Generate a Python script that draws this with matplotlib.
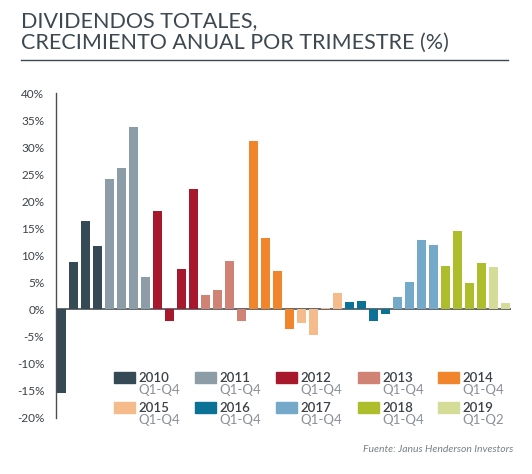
import matplotlib
matplotlib.use('Agg')
import matplotlib.pyplot as plt
from matplotlib.lines import Line2D
from matplotlib.patches import Rectangle
import numpy as np

years = ['2010', '2011', '2012', '2013', '2014', '2015', '2016', '2017', '2018', '2019']
periods = ['Q1-Q4'] * 9 + ['Q1-Q2']
colors = ['#354a54', '#8d9da7', '#a8182d', '#d08374', '#f0852b',
          '#f6bb8b', '#0b7196', '#74a9c9', '#adbd2b', '#d4dc98']

growth = [
    [-15.4, 8.7, 16.4, 11.8],   # 2010
    [24.2, 26.2, 33.8, 6.0],    # 2011
    [18.2, -2.1, 7.5, 22.3],    # 2012
    [2.7, 3.6, 9.0, -2.1],      # 2013
    [31.2, 13.2, 7.1, -3.6],    # 2014
    [-2.5, -4.7, 0.2, 3.0],     # 2015
    [1.4, 1.6, -2.1, -0.8],     # 2016
    [2.3, 5.1, 12.8, 12.0],     # 2017
    [8.1, 14.5, 4.8, 8.6],      # 2018
    [7.8, 1.2],                 # 2019
]

yticks = [40, 35, 30, 25, 20, 15, 10, 5, 0, -5, -10, -15, -20]

W, H = 532, 474
plt.rcParams['font.family'] = ['Lato', 'DejaVu Sans']
fig = plt.figure(figsize=(W / 100, H / 100), dpi=100)

def fx(px):
    return px / W

def fy(py):
    return 1 - py / H

ax = fig.add_axes([fx(55.5), fy(417.5), fx(510.5) - fx(55.5), fy(93.3) - fy(417.5)])

vals = []
cols = []
for c, g in zip(colors, growth):
    vals += g
    cols += [c] * len(g)
x = np.arange(len(vals))
ax.axhline(0, color='#4a4f54', lw=1.2, zorder=1)
ax.bar(x, vals, width=0.75, color=cols, zorder=2)

ax.set_xlim(-0.5, len(vals) - 0.6)
ax.set_ylim(-20, 40)
ax.set_yticks(yticks)
ax.set_yticklabels([f'{t}%' for t in yticks], fontsize=8.5, color='#3a4248')
ax.tick_params(axis='y', length=0, pad=8)
ax.set_xticks([])
for s in ['top', 'right', 'bottom']:
    ax.spines[s].set_visible(False)
ax.spines['left'].set_color('#4a4f54')
ax.spines['left'].set_linewidth(1)

# title
fig.text(fx(21), fy(27), 'DIVIDENDOS TOTALES,', fontsize=15.5,
         color='#3d4850', va='baseline')
fig.text(fx(21), fy(49), 'CRECIMIENTO ANUAL POR TRIMESTRE (%)', fontsize=15.5,
         color='#3d4850', va='baseline')
fig.add_artist(Line2D([fx(21), fx(508)], [fy(59.5), fy(59.5)], color='#3d4850', lw=1))

# legend
col_x = [114, 195, 276, 358, 438]
row_y = [372, 402]
for i, (yr, per, c) in enumerate(zip(years, periods, colors)):
    px = col_x[i % 5]
    py = row_y[i // 5]
    fig.add_artist(Rectangle((fx(px), fy(py + 10.5)), fx(21), fy(0) - fy(10.5),
                             color=c, transform=fig.transFigure))
    fig.text(fx(px + 24), fy(py + 5.5), yr, fontsize=9.5, color='#3a4248',
             fontweight='semibold', va='center')
    fig.text(fx(px + 24), fy(py + 18), per, fontsize=9.5, color='#8a9096',
             va='center')

fig.text(fx(513), fy(450), 'Fuente: Janus Henderson Investors', fontsize=7.5,
         style='italic', color='#7a8086', ha='right', va='center')

fig.savefig('out.png', dpi=100)
